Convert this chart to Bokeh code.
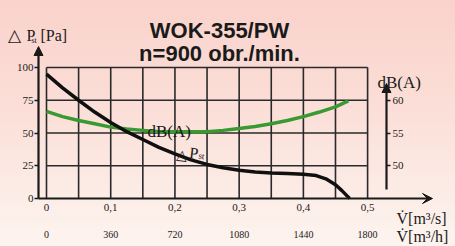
import numpy as np
from bokeh.plotting import figure
from bokeh.models import Range1d, LinearAxis, FixedTicker, Label, Arrow, VeeHead, NormalHead
from bokeh.embed import file_html
from bokeh.resources import INLINE

# ---------------- data ----------------
flow_p = [0, 0.025, 0.05, 0.075, 0.1, 0.125, 0.15, 0.175, 0.2, 0.225, 0.25, 0.275,
          0.3, 0.325, 0.35, 0.375, 0.4, 0.42, 0.435, 0.45, 0.46, 0.468, 0.472]
pressure_pa = [95, 84.5, 75, 66, 58, 51, 45, 39, 34, 29.5, 26, 23.5,
               21.5, 20.3, 19.5, 19, 18.5, 17.5, 15, 10.5, 6, 2, 0]

flow_db = [0, 0.025, 0.05, 0.075, 0.1, 0.125, 0.15, 0.175, 0.2, 0.225, 0.25, 0.275,
           0.3, 0.325, 0.35, 0.375, 0.4, 0.425, 0.45, 0.47]
noise_db = [58.3, 57.5, 56.9, 56.4, 55.9, 55.6, 55.4, 55.2, 55.2, 55.2, 55.2, 55.4,
            55.7, 56.0, 56.4, 56.9, 57.5, 58.2, 59.0, 59.9]

x_ticks_s = [0, 0.1, 0.2, 0.3, 0.4, 0.5]
x_labels_s = ["0", "0,1", "0,2", "0,3", "0,4", "0,5"]
x_ticks_h = [0, 360, 720, 1080, 1440, 1800]
y_ticks_pa = [0, 25, 50, 75, 100]
y_ticks_db = [50, 55, 60]

# ---------------- geometry helpers (pixel -> data) ----------------
W, H = 455, 246
X0, XS = 46.0, 642.2   # px of x=0, px per m3/s
Y0, YS = 198.0, 1.31   # px of P=0, px per Pa


def dx(px):
    return (px - X0) / XS


def dy(py):
    return (Y0 - py) / YS


x_lo, x_hi = dx(0), dx(W)
y_lo, y_hi = dy(H), dy(0)

p = figure(width=W, height=H, output_backend="svg", toolbar_location=None,
           x_range=Range1d(x_lo, x_hi), y_range=Range1d(y_lo, y_hi),
           x_axis_location=None, y_axis_location=None,
           min_border_left=0, min_border_right=0, min_border_top=0, min_border_bottom=0)
p.background_fill_color = None
p.border_fill_color = None
p.outline_line_color = None
p.xgrid.grid_line_color = None
p.ygrid.grid_line_color = None

p.extra_y_ranges = {"db": Range1d(45 + y_lo / 5, 45 + y_hi / 5)}
p.extra_x_ranges = {"mh": Range1d(x_lo * 3600, x_hi * 3600)}

ink = "#1a1a1a"
serif = "Liberation Serif"

# grid
gx = list(np.linspace(0, 0.5, 11))
gy = [25, 50, 75, 100]
p.segment(x0=gx, y0=[0] * len(gx), x1=gx, y1=[100] * len(gx), line_color="#2a2a2a", line_width=1.6)
p.segment(x0=[0] * len(gy), y0=gy, x1=[0.5] * len(gy), y1=gy, line_color="#2a2a2a", line_width=1.6)

# curves
p.line(flow_db, noise_db, y_range_name="db", line_color="#3a9a32", line_width=3.5, line_join="round")
p.line(flow_p, pressure_pa, line_color="#101010", line_width=3.5, line_join="round")

# axes
left = LinearAxis(fixed_location=dx(38), ticker=FixedTicker(ticks=y_ticks_pa),
                  axis_line_color=None, major_tick_out=4, major_tick_in=0,
                  major_tick_line_color=ink, major_tick_line_width=1.5,
                  minor_tick_line_color=None, major_label_standoff=1,
                  major_label_text_font=serif, major_label_text_font_size="11px",
                  major_label_text_color=ink)
p.add_layout(left, "left")

right = LinearAxis(y_range_name="db", fixed_location=dx(386), ticker=FixedTicker(ticks=y_ticks_db),
                   axis_line_color=None, major_tick_out=4, major_tick_in=0,
                   major_tick_line_color=ink, major_tick_line_width=1.5,
                   minor_tick_line_color=None, major_label_standoff=2,
                   major_label_text_font=serif, major_label_text_font_size="11px",
                   major_label_text_color=ink)
p.add_layout(right, "right")

bottom = LinearAxis(fixed_location=0, ticker=FixedTicker(ticks=x_ticks_s),
                    major_label_overrides={t: l for t, l in zip(x_ticks_s, x_labels_s)},
                    axis_line_color=None, major_tick_line_color=None, minor_tick_line_color=None,
                    major_tick_out=0, major_tick_in=0, major_label_standoff=5,
                    major_label_text_font=serif, major_label_text_font_size="11px",
                    major_label_text_color=ink)
p.add_layout(bottom, "below")

bottom2 = LinearAxis(x_range_name="mh", fixed_location=dy(228), ticker=FixedTicker(ticks=x_ticks_h),
                     axis_line_color=None, major_tick_line_color=None, minor_tick_line_color=None,
                     major_tick_out=0, major_tick_in=0, major_label_standoff=2,
                     major_label_text_font=serif, major_label_text_font_size="10px",
                     major_label_text_color=ink)
p.add_layout(bottom2, "below")

# axis lines with arrows
p.add_layout(Arrow(end=NormalHead(size=9, fill_color=ink, line_color=ink),
                   x_start=dx(38), y_start=0, x_end=dx(38), y_end=dy(46),
                   line_color=ink, line_width=2.2))
p.add_layout(Arrow(end=VeeHead(size=10, fill_color=ink, line_color=ink),
                   x_start=dx(38), y_start=0, x_end=dx(432), y_end=0,
                   line_color=ink, line_width=2.2))
p.add_layout(Arrow(end=NormalHead(size=9, fill_color=ink, line_color=ink),
                   x_start=dx(386), y_start=dy(189), x_end=dx(386), y_end=dy(83),
                   line_color=ink, line_width=2.2))


def lab(px, py, text, size, font=serif, align="left", style="normal", angle=0):
    p.add_layout(Label(x=dx(px), y=dy(py), text=text, text_font=font, text_font_size=size,
                       text_align=align, text_baseline="alphabetic", text_color=ink,
                       text_font_style=style, angle=angle))


# title
lab(219, 30, "WOK-355/PW", "22px", font="Liberation Sans", align="center", style="bold")
lab(219, 53, "n=900 obr./min.", "22px", font="Liberation Sans", align="center", style="bold")

# left axis title
lab(7, 35, "△", "17px")
lab(26, 35, "P", "16px")
lab(31, 40, "st", "8px")
lab(40, 35, "[Pa]", "16px")

# right axis title
lab(377, 82, "dB(A)", "17px")

# x axis titles
lab(396, 218, "V̇[m³/s]", "16px")
lab(396, 236, "V̇[m³/h]", "16px")

# curve labels
lab(147, 131, "dB(A)", "17px")
lab(176, 154, "△", "14px", angle=-0.12)
lab(189, 152, "P", "16px", angle=-0.12)
lab(198, 155, "st", "9px", angle=-0.12)

html = file_html(p, INLINE)
html = html.replace("<head>", "<head><style>html{min-height:100%;background:linear-gradient(180deg,#f9d2cb 0%,#fbdfd8 45%,#fdf4ef 100%);}</style>", 1)
open("out.html", "w").write(html)
